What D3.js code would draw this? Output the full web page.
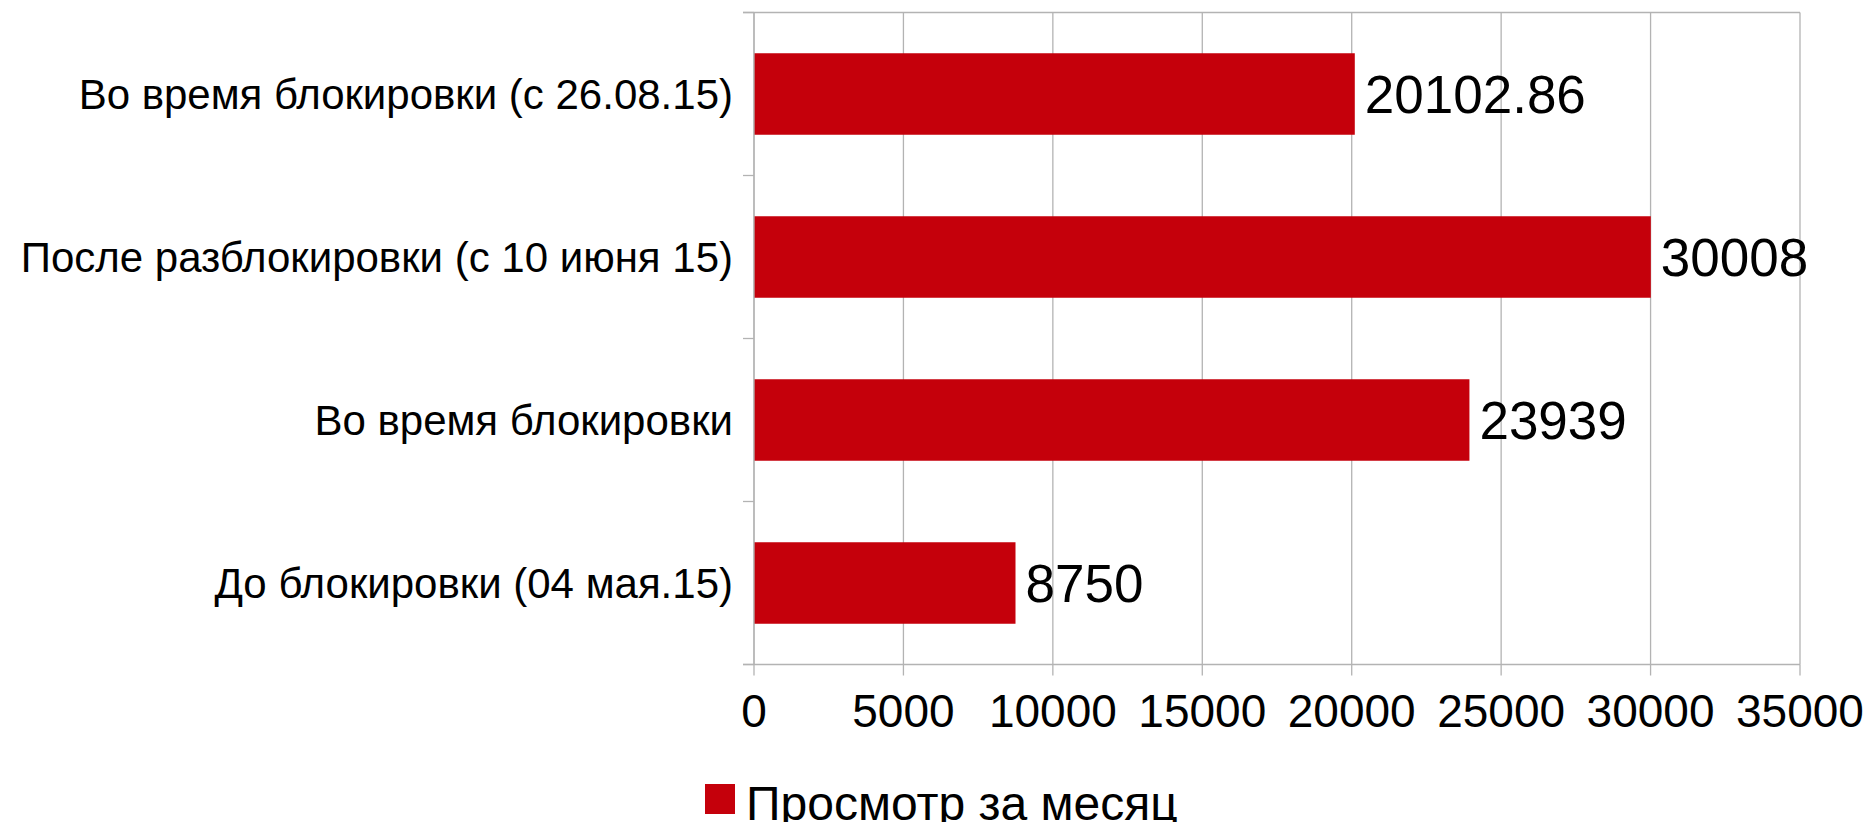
<!DOCTYPE html>
<html>
<head>
<meta charset="utf-8">
<style>
  body { margin: 0; background: #fff; font-family: "Liberation Sans", Arial, sans-serif; }
  svg { display: block; }
</style>
<title>Просмотр за месяц</title>
</head>
<body>
<script src="https://cdn.jsdelivr.net/npm/d3@7"></script>
<script>

var categories = [
	"Во время блокировки (с 26.08.15)",
	"После разблокировки (с 10 июня 15)",
	"Во время блокировки",
	"До блокировки (04 мая.15)"
];
var values = [20102.86, 30008, 23939, 8750];
var valueLabels = ["20102.86", "30008", "23939", "8750"];
var xTicks = [0, 5000, 10000, 15000, 20000, 25000, 30000, 35000];
var seriesName = "Просмотр за месяц";

var W = 1871, H = 822;
var margin = {top: 12.5, left: 754, right: 71, bottom: 157.5};
var width = W - margin.left - margin.right,
    height = H - margin.top - margin.bottom;

var red = "#c5000b", grid = "#b3b3b3";

var svg = d3.select("body").append("svg")
	.attr("width", W)
	.attr("height", H);

var g = svg.append("g")
	.attr("transform", `translate(${margin.left},${margin.top})`);

var x = d3.scaleLinear()
	.domain([0, 35000])
	.range([0, width]);

var y = d3.scaleBand()
	.domain(categories)
	.range([0, height]);

// vertical grid lines
g.selectAll("line.grid")
	.data(xTicks)
	.join("line")
	.attr("class", "grid")
	.attr("x1", d => x(d)).attr("x2", d => x(d))
	.attr("y1", 0).attr("y2", height)
	.attr("stroke", grid)
	.attr("stroke-width", 1.3);

// top border
g.append("line")
	.attr("x1", -11).attr("x2", width)
	.attr("y1", 0).attr("y2", 0)
	.attr("stroke", grid).attr("stroke-width", 1.3);

// bars
var bw = y.bandwidth();
g.selectAll("rect.bar")
	.data(values)
	.join("rect")
	.attr("class", "bar")
	.attr("x", 0)
	.attr("y", (d, i) => y(categories[i]) + bw * 0.25)
	.attr("width", d => x(d))
	.attr("height", bw * 0.5)
	.attr("fill", red);

// value labels
g.selectAll("text.val")
	.data(values)
	.join("text")
	.attr("class", "val")
	.attr("x", d => x(d) + 10)
	.attr("y", (d, i) => y(categories[i]) + bw / 2)
	.attr("dy", "0.36em")
	.attr("font-size", 53)
	.text((d, i) => valueLabels[i]);

// category axis
var yAxis = g.append("g");
yAxis.append("line")
	.attr("x1", 0).attr("x2", 0)
	.attr("y1", 0).attr("y2", height)
	.attr("stroke", grid).attr("stroke-width", 1.3);
yAxis.selectAll("line.tick")
	.data(d3.range(categories.length + 1))
	.join("line")
	.attr("class", "tick")
	.attr("x1", -11).attr("x2", 0)
	.attr("y1", i => i * y.step()).attr("y2", i => i * y.step())
	.attr("stroke", grid).attr("stroke-width", 1.3);
yAxis.selectAll("text")
	.data(categories)
	.join("text")
	.attr("x", -21)
	.attr("y", d => y(d) + bw / 2)
	.attr("dy", "0.36em")
	.attr("text-anchor", "end")
	.attr("font-size", 42)
	.text(d => d);

// value axis
var xAxis = g.append("g")
	.attr("transform", `translate(0,${height})`);
xAxis.append("line")
	.attr("x1", -11).attr("x2", width)
	.attr("stroke", grid).attr("stroke-width", 1.3);
xAxis.selectAll("line.tick")
	.data(xTicks)
	.join("line")
	.attr("class", "tick")
	.attr("x1", d => x(d)).attr("x2", d => x(d))
	.attr("y1", 0).attr("y2", 11)
	.attr("stroke", grid).attr("stroke-width", 1.3);
xAxis.selectAll("text")
	.data(xTicks)
	.join("text")
	.attr("x", d => x(d))
	.attr("y", 62.5)
	.attr("text-anchor", "middle")
	.attr("font-size", 46)
	.text(d => d);

// legend
var legend = svg.append("g")
	.attr("transform", "translate(705,784)");
legend.append("rect")
	.attr("width", 30).attr("height", 30)
	.attr("fill", red);
legend.append("text")
	.attr("x", 41)
	.attr("y", 36)
	.attr("font-size", 48)
	.text(seriesName);

</script>
</body>
</html>
